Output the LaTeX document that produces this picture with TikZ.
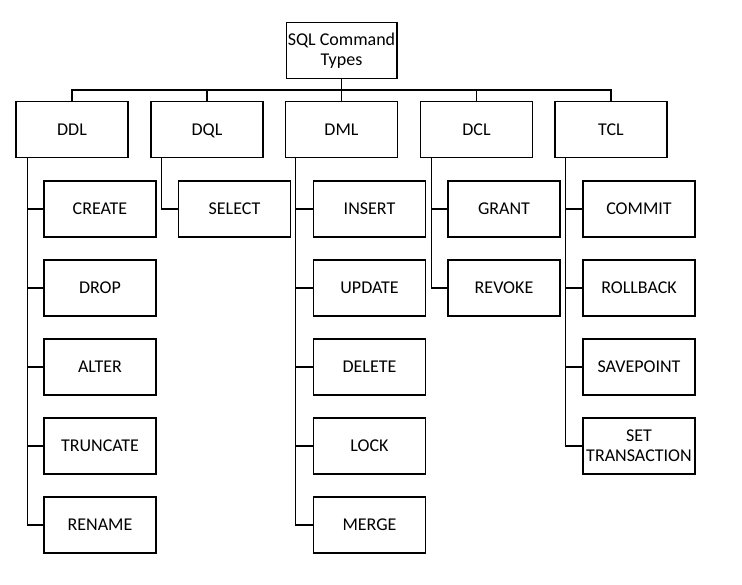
\documentclass[tikz,border=0pt]{standalone}
\usepackage{fontspec}
\setmainfont{Carlito}
\begin{document}
\begin{tikzpicture}[x=0.75pt, y=-0.75pt,
        box/.style={draw, line width=1pt, minimum width=84pt, minimum height=42pt, inner sep=0pt, align=center, font=\fontsize{13.5}{15}\selectfont},
        one/.style={box, text height=10.5pt, text depth=2pt},
        link/.style={line width=0.8pt}]
            \useasboundingbox (0, 0) rectangle (742, 585);
            
            \node (root) at (341.5, 50.5) [box, minimum width=83pt] {SQL Command\\Types};
            
            \node (ddl) at (72, 129.5) [one] {DDL};
            \node (dql) at (207, 129.5) [one] {DQL};
            \node (dml) at (341.5, 129.5) [one] {DML};
            \node (dcl) at (476.5, 129.5) [one] {DCL};
            \node (tcl) at (611, 129.5) [one] {TCL};
            
            \node (create) at (100, 209) [one] {CREATE};
            \node (drop) at (100, 288) [one] {DROP};
            \node (alter) at (100, 367) [one] {ALTER};
            \node (truncate) at (100, 446) [one] {TRUNCATE};
            \node (rename) at (100, 525) [one] {RENAME};
            
            \node (select) at (234.5, 209) [one] {SELECT};
            
            \node (insert) at (369.5, 209) [one] {INSERT};
            \node (update) at (369.5, 288) [one] {UPDATE};
            \node (delete) at (369.5, 367) [one] {DELETE};
            \node (lock) at (369.5, 446) [one] {LOCK};
            \node (merge) at (369.5, 525) [one] {MERGE};
            
            \node (grant) at (504, 209) [one] {GRANT};
            \node (revoke) at (504, 288) [one] {REVOKE};
            
            \node (commit) at (639, 209) [one] {COMMIT};
            \node (rollback) at (639, 288) [one] {ROLLBACK};
            \node (savepoint) at (639, 367) [one] {SAVEPOINT};
            \node (settrans) at (639, 446) [box] {SET\\TRANSACTION};
            
            % top level bus
            \coordinate (bus) at (341.5, 90);
            \draw[link] (root) -- (bus);
            \draw[link] (bus) -| (ddl.north);
            \draw[link] (bus) -| (dql.north);
            \draw[link] (bus) -- (dml.north);
            \draw[link] (bus) -| (dcl.north);
            \draw[link] (bus) -| (tcl.north);
            
            % DDL
            \draw[link] ([xshift=8.8pt]ddl.south west) |- (rename.west);
            \draw[link] ([xshift=8.8pt]ddl.south west) |- (create.west);
            \draw[link] ([xshift=8.8pt]ddl.south west) |- (drop.west);
            \draw[link] ([xshift=8.8pt]ddl.south west) |- (alter.west);
            \draw[link] ([xshift=8.8pt]ddl.south west) |- (truncate.west);
            
            % DQL
            \draw[link] ([xshift=8.3pt]dql.south west) |- (select.west);
            
            % DML
            \draw[link] ([xshift=8.3pt]dml.south west) |- (merge.west);
            \draw[link] ([xshift=8.3pt]dml.south west) |- (insert.west);
            \draw[link] ([xshift=8.3pt]dml.south west) |- (update.west);
            \draw[link] ([xshift=8.3pt]dml.south west) |- (delete.west);
            \draw[link] ([xshift=8.3pt]dml.south west) |- (lock.west);
            
            % DCL
            \draw[link] ([xshift=8.6pt]dcl.south west) |- (revoke.west);
            \draw[link] ([xshift=8.6pt]dcl.south west) |- (grant.west);
            
            % TCL
            \draw[link] ([xshift=8.3pt]tcl.south west) |- (settrans.west);
            \draw[link] ([xshift=8.3pt]tcl.south west) |- (commit.west);
            \draw[link] ([xshift=8.3pt]tcl.south west) |- (rollback.west);
            \draw[link] ([xshift=8.3pt]tcl.south west) |- (savepoint.west);
            
        \end{tikzpicture}
\end{document}
